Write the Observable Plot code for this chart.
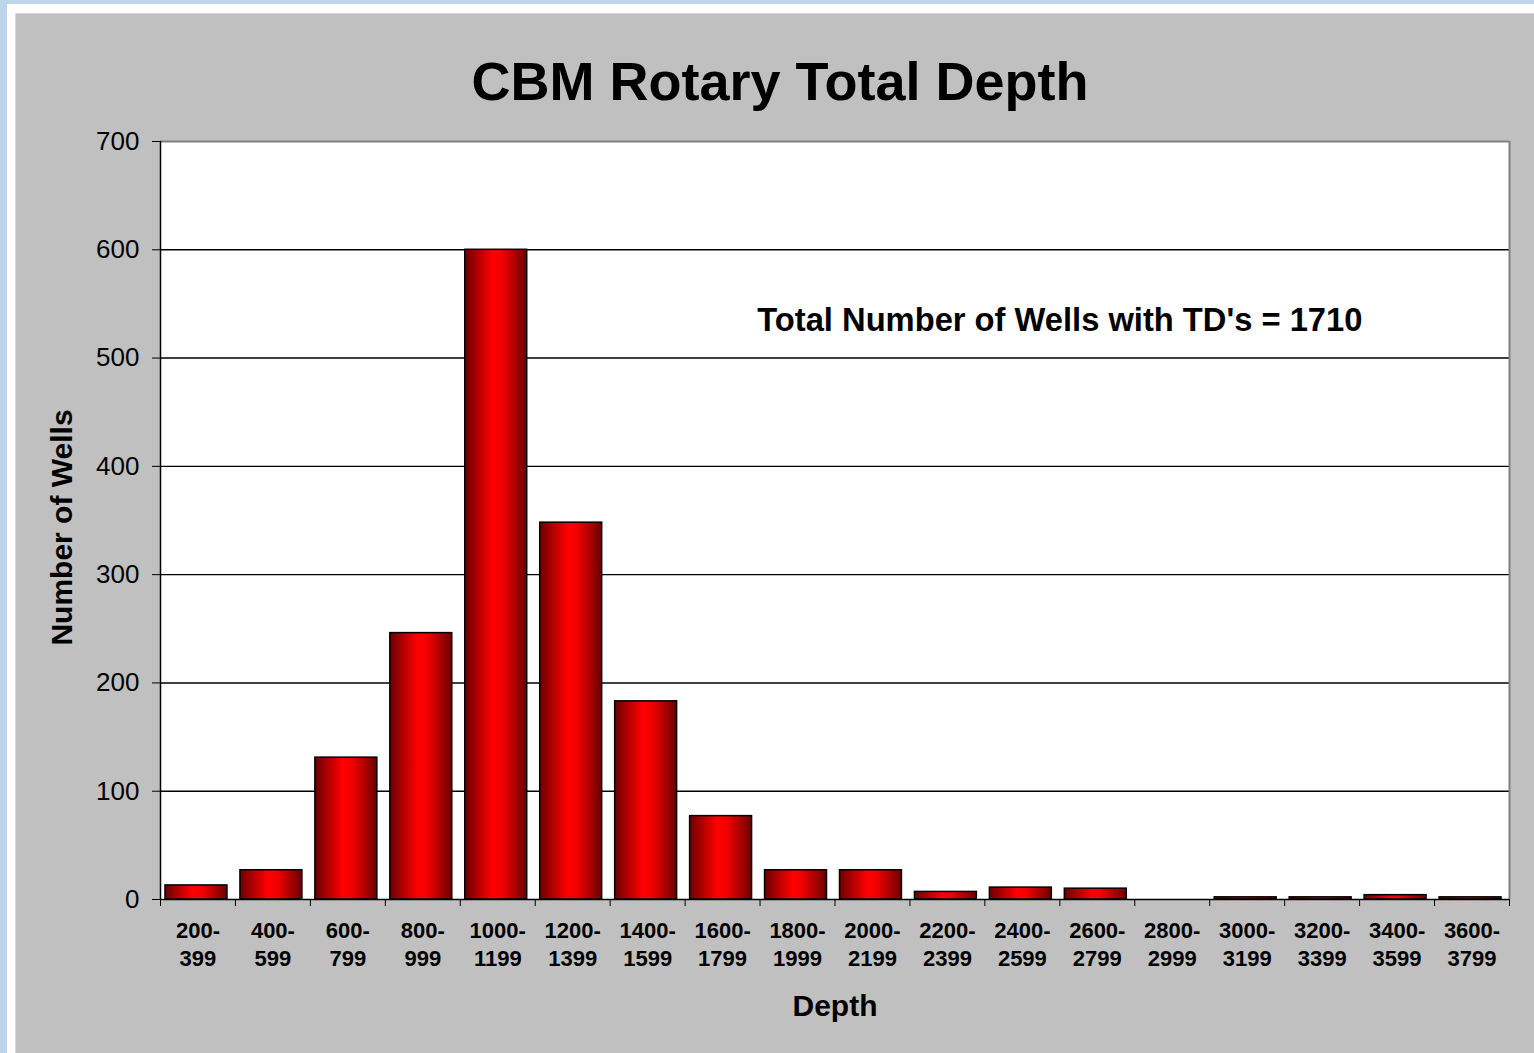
<!DOCTYPE html>
<html><head><meta charset="utf-8">
<script src="https://cdn.jsdelivr.net/npm/d3@7"></script>
<script src="https://cdn.jsdelivr.net/npm/@observablehq/plot@0.6"></script>
<style>
html,body{margin:0;padding:0;}
body{width:1534px;height:1053px;overflow:hidden;background:#bdd4ea;position:relative;font-family:"Liberation Sans",Arial,sans-serif;}
#outer{position:absolute;left:7px;top:4px;right:0;bottom:0;background:#ffffff;}
#panel{position:absolute;left:15px;top:13px;width:1519px;height:1040px;background:#c0c0c0;border-top:1px solid #d8d8d8;border-left:1px solid #d8d8d8;box-sizing:border-box;}
#title{position:absolute;left:0;top:40px;width:1519px;padding-left:9px;box-sizing:border-box;text-align:center;font-size:54px;line-height:54px;font-weight:bold;color:#000;}
#chart{position:absolute;left:-1px;top:-1px;}
</style></head>
<body>
<div id="outer"></div>
<div id="panel"><div id="chart"></div><div id="title">CBM Rotary Total Depth</div></div>
<script>
const rangeStarts = ["200","400","600","800","1000","1200","1400","1600","1800","2000","2200","2400","2600","2800","3000","3200","3400","3600"];
const rangeEnds   = ["399","599","799","999","1199","1399","1599","1799","1999","2199","2399","2599","2799","2999","3199","3399","3599","3799"];
const wellCounts  = [13,27,131,246,600,348,183,77,27,27,7,11,10,0,2,2,4,2];
const yTicks = [0,100,200,300,400,500,600,700];
const annotationText = "Total Number of Wells with TD's = 1710";
const annotationPos = {x: 12, y: 535};
const yLabel = "Number of Wells";
const xLabel = "Depth";

const data = wellCounts.map((count, i) => ({i, count, label: rangeStarts[i] + "-\n" + rangeEnds[i]}));
const boundaries = d3.range(0, data.length + 1);

const gradientDefs = () => {
  const defs = d3.create("svg:defs");
  const lg = defs.append("linearGradient").attr("id", "barGrad")
    .attr("x1", "0").attr("x2", "1").attr("y1", "0").attr("y2", "0");
  [["0%", "#6a0000"], ["18%", "#a80000"], ["45%", "#ff0000"], ["60%", "#f20000"], ["85%", "#a00000"], ["100%", "#680000"]]
    .forEach(([o, c]) => lg.append("stop").attr("offset", o).attr("stop-color", c));
  return defs.node();
};

const chart = Plot.plot({
  width: 1519,
  height: 1040,
  marginLeft: 145,
  marginTop: 128,
  marginRight: 25,
  marginBottom: 154,
  style: {background: "transparent", color: "#000", fontFamily: "'Liberation Sans', Arial, sans-serif", overflow: "visible"},
  x: {type: "linear", domain: [0, data.length], axis: null},
  y: {domain: [0, 700], axis: null},
  marks: [
    gradientDefs,
    Plot.frame({fill: "white", stroke: null}),
    Plot.ruleY(yTicks.filter(d => d > 0 && d < 700), {stroke: "#000", strokeWidth: 1.4}),
    Plot.ruleY([700], {stroke: "#808080", strokeWidth: 2}),
    Plot.ruleX([data.length], {stroke: "#808080", strokeWidth: 2}),
    Plot.rectY(data.filter(d => d.count > 0), {
      x1: "i", x2: d => d.i + 1, y: "count",
      fill: "url(#barGrad)", stroke: "#000", strokeWidth: 1.5,
      insetLeft: 5, insetRight: 8
    }),
    Plot.ruleX([0], {stroke: "#000", strokeWidth: 1.5}),
    Plot.ruleY([0], {stroke: "#000", strokeWidth: 1.5}),
    Plot.axisY({ticks: yTicks, tickSize: 8, tickPadding: 13, fontSize: 26, label: null, tickFormat: d => String(d)}),
    Plot.axisX({ticks: boundaries, tickSize: 7, tickFormat: () => "", label: null}),
    Plot.axisX({ticks: data.map(d => d.i + 0.5), tickSize: 0, tickPadding: 19, fontSize: 22, fontWeight: "bold",
      lineHeight: 1.27, label: null, tickFormat: d => data[Math.floor(d)].label}),
    Plot.text([annotationText], {x: () => annotationPos.x, y: () => annotationPos.y, text: d => d,
      fontSize: 32.7, fontWeight: "bold", textAnchor: "middle", lineAnchor: "middle", fill: "#000"}),
    Plot.text([yLabel], {frameAnchor: "left", rotate: -90, dx: -98, dy: 7, text: d => d,
      fontSize: 30, fontWeight: "bold", textAnchor: "middle", lineAnchor: "middle", fill: "#000"}),
    Plot.text([xLabel], {frameAnchor: "bottom", dy: 107, text: d => d,
      fontSize: 30, fontWeight: "bold", lineAnchor: "middle", fill: "#000"})
  ]
});
document.getElementById("chart").appendChild(chart);
</script>
</body></html>
